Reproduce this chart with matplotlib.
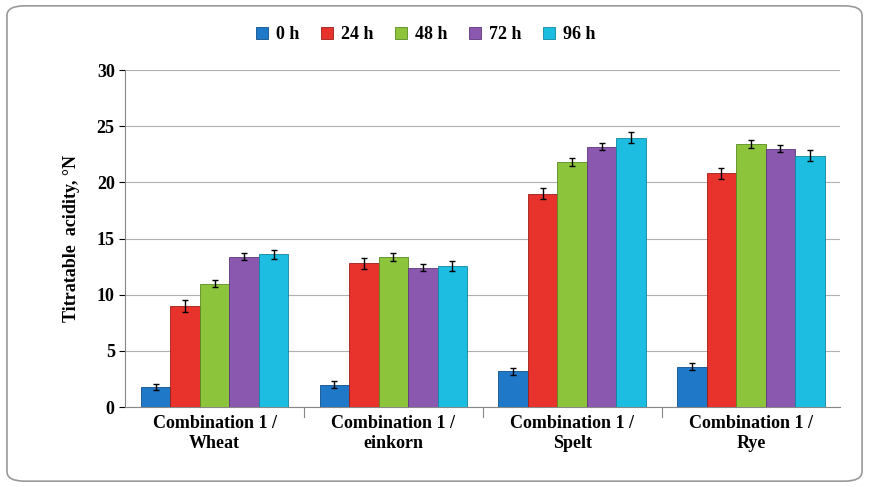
import matplotlib.pyplot as plt
import numpy as np
from matplotlib.patches import FancyBboxPatch

plt.rcParams['font.family'] = ['Liberation Serif', 'DejaVu Serif']

groups = ["Combination 1 /\nWheat", "Combination 1 /\neinkorn",
          "Combination 1 /\nSpelt", "Combination 1 /\nRye"]
series = ["0 h", "24 h", "48 h", "72 h", "96 h"]
values = [
    [1.8, 2.0, 3.2, 3.6],
    [9.0, 12.8, 19.0, 20.8],
    [11.0, 13.4, 21.8, 23.4],
    [13.4, 12.4, 23.2, 23.0],
    [13.6, 12.6, 24.0, 22.4],
]
errors = [
    [0.3, 0.3, 0.3, 0.3],
    [0.5, 0.5, 0.5, 0.45],
    [0.35, 0.35, 0.35, 0.35],
    [0.3, 0.3, 0.3, 0.3],
    [0.4, 0.45, 0.45, 0.45],
]
colors = ["#1f78c8", "#e8322c", "#8cc43c", "#8b58b0", "#1cbde0"]
edges = ["#0f4f8a", "#9e1c18", "#5a8a20", "#5c3778", "#0f86a0"]

fig = plt.figure(figsize=(8.69, 4.87), dpi=100)
fig.patches.append(FancyBboxPatch((0.008, 0.012), 0.984, 0.976,
                                  boxstyle="round,pad=0,rounding_size=0.02",
                                  transform=fig.transFigure, fill=False,
                                  edgecolor="#999999", linewidth=1.2))
ax = fig.add_axes([0.144, 0.164, 0.823, 0.692])

x = np.arange(len(groups))
w = 0.165
for i, s in enumerate(series):
    pos = x + (i - 2) * w
    ax.bar(pos, values[i], w, color=colors[i], edgecolor=edges[i],
           linewidth=0.6, label=s, zorder=3)
    ax.errorbar(pos, values[i], yerr=errors[i], fmt="none", ecolor="black",
                elinewidth=1, capsize=2.5, zorder=4)

ax.set_ylim(0, 30)
ax.set_yticks(range(0, 31, 5))
ax.set_xlim(-0.5, 3.5)
ax.set_xticks(x)
ax.set_xticklabels(groups, fontsize=13, fontweight="bold")
ax.tick_params(axis="y", labelsize=13, length=4)
for lab in ax.get_yticklabels():
    lab.set_fontweight("bold")
ax.tick_params(axis="x", length=0, pad=6)
for b in [0.5, 1.5, 2.5]:
    ax.axvline(b, ymin=-0.03, ymax=0, color="#888888", lw=0.8, clip_on=False)
ax.yaxis.grid(True, color="#b0b0b0", lw=0.8, zorder=0)
ax.set_axisbelow(True)
for sp in ["top", "right"]:
    ax.spines[sp].set_visible(False)
ax.spines["left"].set_color("#888888")
ax.spines["bottom"].set_color("#888888")
ax.set_ylabel("Titratable  acidity, °N", fontsize=13, fontweight="bold",
              labelpad=12)

ax.legend(loc="center", bbox_to_anchor=(0.42, 1.105), ncol=5,
          frameon=False, prop={"weight": "bold", "size": 13},
          handlelength=0.7, handleheight=0.7, columnspacing=1.2,
          handletextpad=0.4)

fig.savefig("out.png", dpi=100)
